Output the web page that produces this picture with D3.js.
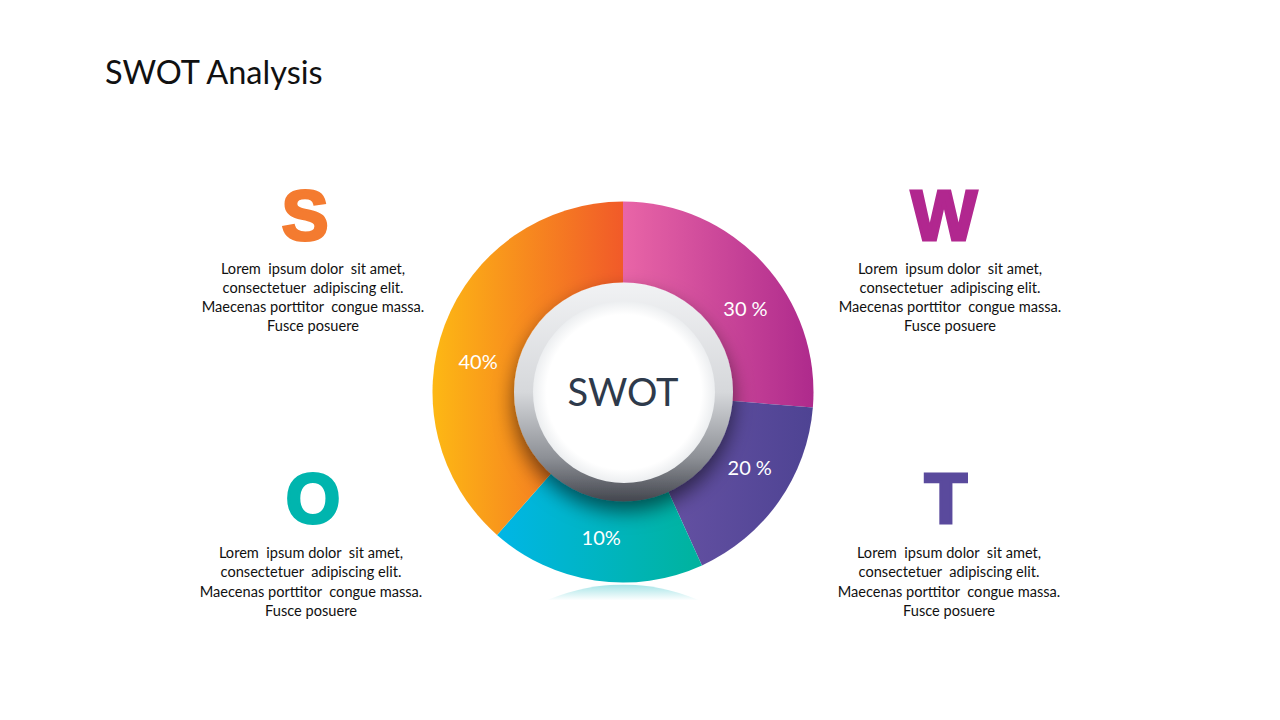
<!DOCTYPE html>
<html>
<head>
<meta charset="utf-8">
<script src="https://cdnjs.cloudflare.com/ajax/libs/d3/7.8.5/d3.min.js"></script>
<style>
  html, body { margin: 0; padding: 0; background: #fff; }
  svg { display: block; }
</style>
</head>
<body>
<svg id="chart" width="1280" height="720"></svg>
<script>
// slice shares (clockwise from 12 o'clock)
const sliceKeys = ["W", "T", "O", "S"];
const sliceShares = [26.3, 16.9, 18.3, 38.5];
const sliceLabels = ["30 %", "20 %", "10%", "40%"];
const gradStops = [
    ["#e965a7", "#ae2a8c"],
    ["#6b55a7", "#4e4393"],
    ["#00b6e6", "#00b39d"],
    ["#fdb814", "#f15a29"]
];

const letters = ["S", "W", "O", "T"];
const letterColors = ["#f47b30", "#b1278f", "#00b5ae", "#5a4a9d"];
const bodyLines = [
    "Lorem  ipsum dolor  sit amet,",
    "consectetuer  adipiscing elit.",
    "Maecenas porttitor  congue massa.",
    "Fusce posuere"
];

const width = 1280, height = 720;
const cx = 623, cy = 392, outerR = 190.5;
const font = "Lato, 'Open Sans', sans-serif";

let svg = d3.select("#chart");
let defs = svg.append("defs");

svg.append("text")
    .attr("x", 105).attr("y", 84)
    .attr("font-family", font)
    .attr("font-size", 32.5)
    .attr("fill", "#111")
    .text("SWOT Analysis");

let pie = d3.pie().sort(null).value(d => d);
let arcs = pie(sliceShares);
let arc = d3.arc().innerRadius(0).outerRadius(outerR);

// horizontal gradient per slice, spanning the slice's x-extent (donut-local coords)
arcs.forEach((a, i) => {
    let xs = [0, Math.sin(a.endAngle) * outerR];
    for (let t = a.startAngle; t <= a.endAngle; t += 0.02) xs.push(Math.sin(t) * outerR);
    let g = defs.append("linearGradient")
        .attr("id", "slice" + i)
        .attr("gradientUnits", "userSpaceOnUse")
        .attr("x1", d3.min(xs)).attr("x2", d3.max(xs))
        .attr("y1", 0).attr("y2", 0);
    g.append("stop").attr("offset", 0).attr("stop-color", gradStops[i][0]);
    g.append("stop").attr("offset", 1).attr("stop-color", gradStops[i][1]);
});

// soft reflection under the donut
let refl = defs.append("linearGradient").attr("id", "refl")
    .attr("x1", 0).attr("x2", 0).attr("y1", 0).attr("y2", 1);
refl.append("stop").attr("offset", 0).attr("stop-color", "#5fd0d4").attr("stop-opacity", 0.45);
refl.append("stop").attr("offset", 1).attr("stop-color", "#5fd0d4").attr("stop-opacity", 0);
defs.append("clipPath").attr("id", "reflClip")
    .append("rect").attr("x", 0).attr("y", cy + outerR + 2).attr("width", width).attr("height", 16);
let reflG = defs.append("linearGradient").attr("id", "reflV")
    .attr("gradientUnits", "userSpaceOnUse")
    .attr("x1", 0).attr("x2", 0).attr("y1", cy + outerR + 2).attr("y2", cy + outerR + 18);
reflG.append("stop").attr("offset", 0).attr("stop-color", "#4cc9cf").attr("stop-opacity", 0.5);
reflG.append("stop").attr("offset", 1).attr("stop-color", "#4cc9cf").attr("stop-opacity", 0);
svg.append("circle")
    .attr("cx", cx).attr("cy", cy + 2 * outerR + 2).attr("r", outerR)
    .attr("fill", "url(#reflV)")
    .attr("clip-path", "url(#reflClip)");

let donut = svg.append("g").attr("transform", `translate(${cx},${cy})`);
donut.selectAll("path")
    .data(arcs)
    .enter().append("path")
    .attr("d", arc)
    .attr("fill", (d, i) => `url(#slice${i})`);

// centre ring with shadow
let shadow = defs.append("filter").attr("id", "ringShadow")
    .attr("x", "-40%").attr("y", "-40%").attr("width", "180%").attr("height", "180%");
shadow.append("feDropShadow")
    .attr("dx", 0).attr("dy", 10).attr("stdDeviation", 10)
    .attr("flood-color", "#000").attr("flood-opacity", 0.55);

let ringGrad = defs.append("linearGradient").attr("id", "ring")
    .attr("x1", 0).attr("x2", 0).attr("y1", 0).attr("y2", 1);
ringGrad.append("stop").attr("offset", 0).attr("stop-color", "#f1f2f4");
ringGrad.append("stop").attr("offset", 0.5).attr("stop-color", "#d6d8db");
ringGrad.append("stop").attr("offset", 0.8).attr("stop-color", "#8d9096");
ringGrad.append("stop").attr("offset", 1).attr("stop-color", "#43464e");

donut.append("circle")
    .attr("cx", 0.5).attr("r", 109.5)
    .attr("fill", "url(#ring)")
    .attr("filter", "url(#ringShadow)");

let innerGrad = defs.append("radialGradient").attr("id", "inner");
innerGrad.append("stop").attr("offset", 0.85).attr("stop-color", "#ffffff");
innerGrad.append("stop").attr("offset", 1).attr("stop-color", "#eceef0");
donut.append("circle")
    .attr("cx", 1).attr("r", 91)
    .attr("fill", "url(#inner)");

donut.append("text")
    .attr("y", 14)
    .attr("text-anchor", "middle")
    .attr("font-family", font)
    .attr("font-size", 38)
    .attr("fill", "#2e3a4b")
    .text("SWOT");

// percentage labels: slice mid-angle, nudged the way the original sits
const labelR = 148;
const labelNudge = [8.5, -4, 0, -9];   // degrees
donut.append("g").selectAll("text")
    .data(arcs)
    .enter().append("text")
    .attr("x", (d, i) => labelR * Math.sin((d.startAngle + d.endAngle) / 2 + labelNudge[i] * Math.PI / 180))
    .attr("y", (d, i) => -labelR * Math.cos((d.startAngle + d.endAngle) / 2 + labelNudge[i] * Math.PI / 180) + 7)
    .attr("text-anchor", "middle")
    .attr("font-family", font)
    .attr("font-size", 20)
    .attr("fill", "#fff")
    .text((d, i) => sliceLabels[i]);

// side blocks
let blocks = [
    {x: 305, textX: 313, letterY: 240, textY: 273.5},
    {x: 944, textX: 950, letterY: 240, textY: 273.5},
    {x: 313, textX: 311, letterY: 523, textY: 558},
    {x: 946, textX: 949, letterY: 523, textY: 558}
];

blocks.forEach((b, i) => {
    svg.append("text")
        .attr("x", b.x).attr("y", b.letterY)
        .attr("text-anchor", "middle")
        .attr("font-family", "'Liberation Sans', Arial, sans-serif")
        .attr("font-weight", "bold")
        .attr("font-size", 70)
        .attr("fill", letterColors[i])
        .attr("stroke", letterColors[i])
        .attr("stroke-width", 3)
        .text(letters[i]);

    svg.append("g").selectAll("text")
        .data(bodyLines)
        .enter().append("text")
        .attr("x", b.textX)
        .attr("y", (d, j) => b.textY + j * 19.3)
        .attr("text-anchor", "middle")
        .attr("font-family", font)
        .attr("font-size", 14.6)
        .attr("fill", "#111")
        .style("white-space", "pre")
        .text(d => d);
});
</script>
</body>
</html>
